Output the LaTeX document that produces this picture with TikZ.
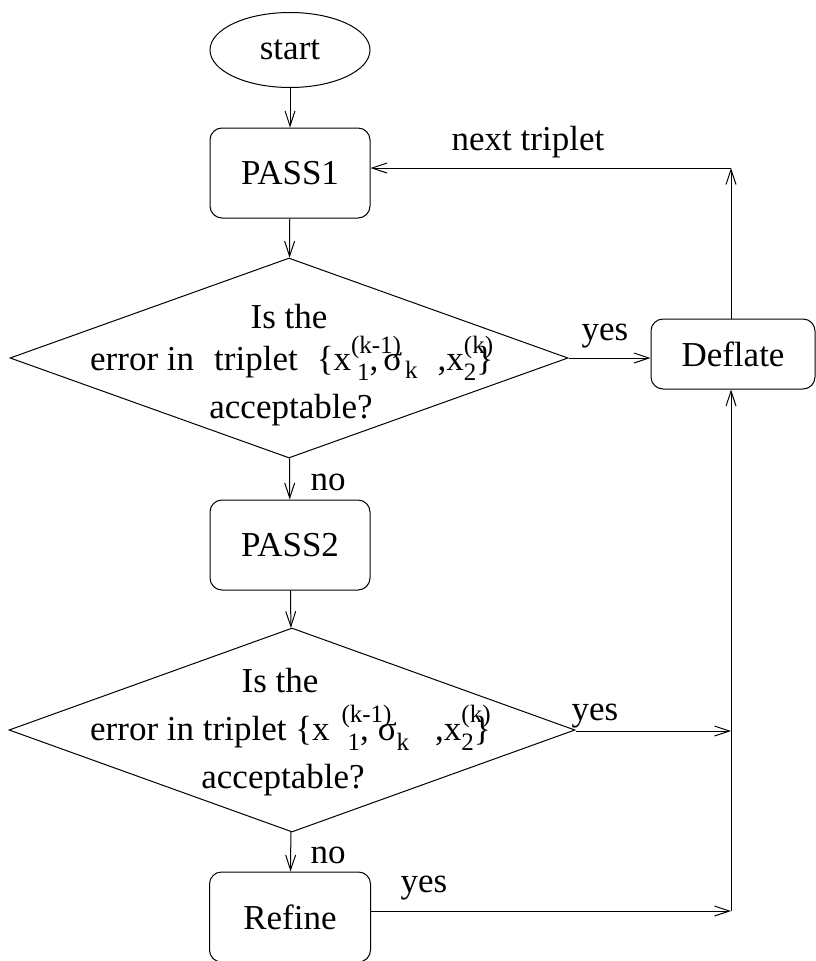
\documentclass[tikz,border=0pt]{standalone}
\usepackage{fontspec}
\setmainfont{Liberation Serif}
\usetikzlibrary{shapes.geometric,arrows.meta,calc}
\newcommand{\ssc}[1]{{\fontsize{25}{25}\selectfont #1}}
\begin{document}
\begin{tikzpicture}[x=1pt,y=-1pt,
  txt/.style={font=\fontsize{35}{40}\selectfont, inner sep=0pt},
  procbox/.style={draw, line width=1pt, rounded corners=12pt, minimum width=160pt, minimum height=90pt, inner sep=0pt, font=\fontsize{35}{40}\selectfont},
  decbox/.style={draw, line width=1pt, diamond, inner sep=0pt},
  arr/.style={line width=1pt, -{Straight Barb[length=15pt,width=10pt]}},
  ln/.style={line width=1pt}]
\useasboundingbox (0,0) rectangle (815,961);
\fill[white] (0,0) rectangle (815,961);

\node[draw, line width=1pt, ellipse, minimum width=160pt, minimum height=75pt, inner sep=0pt, font=\fontsize{35}{40}\selectfont] (start) at (290,50) {start};
\node[procbox] (pass1) at (290,173) {PASS1};
\node[decbox, minimum width=558pt, minimum height=200pt] (d1) at (289,358) {};
\node[txt, anchor=base] (d1a) at (289,328) {Is the};
\node[txt, anchor=base west] (d1b) at (90,370) {error in\hspace{20pt}triplet\hspace{19pt}\{x\rlap{\raisebox{17pt}{\ssc{(k-1)}}}\hspace{6pt}\raisebox{-10pt}{\ssc{1}},\hspace{5pt}σ\hspace{3pt}\raisebox{-8pt}{\ssc{k}}\hspace{20pt},x\rlap{\raisebox{17pt}{\ssc{(k)}}}\raisebox{-10pt}{\ssc{2}}\}};
\node[txt, anchor=base] (d1c) at (291,418) {acceptable?};
\node[procbox, minimum width=164pt, minimum height=70pt] (defl) at (733,354) {Deflate};
\node[procbox] (pass2) at (290,545) {PASS2};
\node[decbox, minimum width=566pt, minimum height=204pt] (d2) at (292,730) {};
\node[txt, anchor=base] (d2a) at (280,692) {Is the};
\node[txt, anchor=base west] (d2b) at (90,740) {error in triplet \{x\hspace{12pt}\rlap{\raisebox{18pt}{\ssc{(k-1)}}}\hspace{6pt}\raisebox{-10pt}{\ssc{1}},\hspace{9pt}σ\raisebox{-10pt}{\ssc{k}}\hspace{26pt},x\rlap{\raisebox{18pt}{\ssc{(k)}}}\raisebox{-10pt}{\ssc{2}}\}};
\node[txt, anchor=base] (d2c) at (283,788) {acceptable?};
\node[procbox, minimum width=161pt] (refine) at (290,917) {Refine};

\coordinate (c1) at (731,168);
\coordinate (c2) at (731,731);
\coordinate (c3) at (731,911);

\node[txt, anchor=base] (lnext) at (528,150) {next triplet};
\node[txt, anchor=base] (lyes1) at (605,340) {yes};
\node[txt, anchor=base] (lno1) at (328,490) {no};
\node[txt, anchor=base] (lyes2) at (595,720) {yes};
\node[txt, anchor=base] (lno2) at (328,863) {no};
\node[txt, anchor=base] (lyes3) at (424,892) {yes};

\draw[arr] (start) -- (pass1);
\draw[arr] (pass1) -- (d1);
\draw[arr] (d1.east) -- (d1.east -| defl.west);
\draw[arr] (c1 |- defl.north) -- (c1);
\draw[arr] (c1) -- (c1 -| pass1.east);
\draw[arr] (d1) -- (pass2);
\draw[arr] (pass2) -- (d2);
\draw[arr] (d2.east |- c2) -- (c2);
\draw[arr] (d2) -- (refine);
\draw[arr] (c3 -| refine.east) -- (c3);
\draw[arr] (c3) -- (c3 |- defl.south);
\end{tikzpicture}
\end{document}
